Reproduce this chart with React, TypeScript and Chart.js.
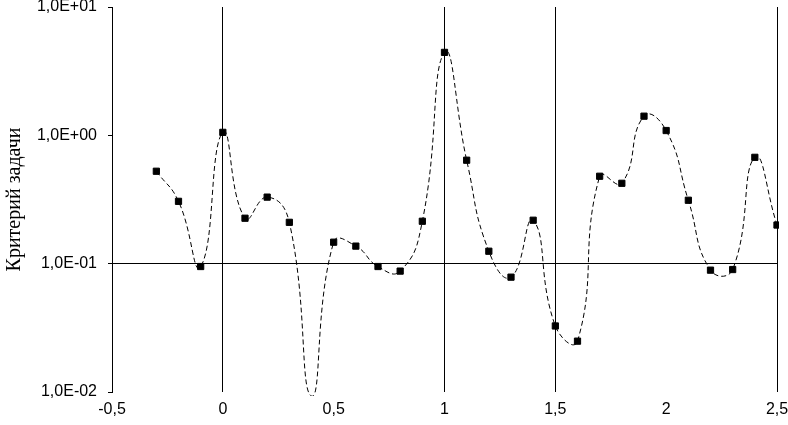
import React, { useEffect, useRef } from "react";
import { Chart, registerables } from "chart.js";

Chart.register(...registerables);

const xValues: number[] = [
  -0.3, -0.2, -0.1, 0, 0.1, 0.2, 0.3, 0.4, 0.5, 0.6, 0.7, 0.8, 0.9, 1.0,
  1.1, 1.2, 1.3, 1.4, 1.5, 1.6, 1.7, 1.8, 1.9, 2.0, 2.1, 2.2, 2.3, 2.4, 2.5,
];
const yValues: number[] = [
  0.525, 0.306, 0.095, 1.055, 0.226, 0.33, 0.21, 0.0093, 0.147, 0.137, 0.095,
  0.0875, 0.214, 4.43, 0.64, 0.125, 0.0785, 0.218, 0.0327, 0.0249, 0.48,
  0.423, 1.41, 1.09, 0.312, 0.089, 0.09, 0.674, 0.2,
];
const yTickValues: number[] = [0.01, 0.1, 1, 10];
const xGridHidden: number[] = [0.5, 2];
const yGridShown: number[] = [0.1];
const yTitle = "Критерий задачи";

function fmtExp(v: number): string {
  const e = Math.round(Math.log10(v));
  const s = e >= 0 ? "+" : "-";
  const a = Math.abs(e);
  return `1,0E${s}${a < 10 ? "0" : ""}${a}`;
}

function fmtX(v: number): string {
  return String(Math.round(v * 10) / 10).replace(".", ",");
}

export default function App() {
  const ref = useRef<HTMLCanvasElement | null>(null);
  useEffect(() => {
    if (!ref.current) return;
    const data = xValues.map((x, i) => ({ x, y: yValues[i] }));
    const chart = new Chart(ref.current, {
      type: "scatter",
      data: {
        datasets: [
          {
            data,
            showLine: true,
            tension: 0.5,
            borderColor: "#000",
            borderWidth: 1,
            borderDash: [5, 3],
            backgroundColor: "#000",
            pointStyle: "rect",
            pointRadius: (ctx: any) => {
              const v = ctx.raw && ctx.raw.y;
              return v !== undefined && v < 0.01 ? 0 : 4.4;
            },
            pointBorderWidth: 1,
            pointBorderColor: "#000",
            pointBackgroundColor: "#000",
            clip: { left: 0, top: 0, right: 2, bottom: 4 } as any,
          },
        ],
      },
      options: {
        responsive: false,
        animation: false,
        devicePixelRatio: 1,
        layout: { padding: { top: 7, right: 11, left: 0, bottom: 0 } },
        plugins: {
          legend: { display: false },
          tooltip: { enabled: false },
        },
        scales: {
          x: {
            type: "linear",
            min: -0.5,
            max: 2.5,
            ticks: {
              stepSize: 0.5,
              padding: 8,
              color: "#000",
              font: { family: "'Liberation Sans', Arial, sans-serif", size: 16 },
              callback: (v: any) => fmtX(Number(v)),
              maxRotation: 0,
              autoSkip: false,
            },
            border: { display: false },
            grid: {
              drawTicks: false,
              color: (ctx: any) => {
                const v = ctx.tick ? ctx.tick.value : NaN;
                return xGridHidden.some((h) => Math.abs(h - v) < 1e-9)
                  ? "rgba(0,0,0,0)"
                  : "#000";
              },
              lineWidth: 1,
            },
            afterFit: (scale: any) => {
              scale.height = 33;
              scale.paddingLeft = 0;
              scale.paddingRight = 0;
            },
          },
          y: {
            type: "logarithmic",
            min: 0.01,
            max: 10,
            afterBuildTicks: (scale: any) => {
              scale.ticks = yTickValues.map((v) => ({ value: v, major: true }));
            },
            ticks: {
              padding: 11,
              color: "#000",
              font: { family: "'Liberation Sans', Arial, sans-serif", size: 16 },
              callback: (v: any) => fmtExp(Number(v)),
              autoSkip: false,
            },
            border: { display: true, color: "#000", width: 1 },
            grid: {
              drawTicks: true,
              tickLength: 4,
              tickColor: "#000",
              color: (ctx: any) => {
                const v = ctx.tick ? ctx.tick.value : NaN;
                return yGridShown.some((h) => Math.abs(h - v) < 1e-9)
                  ? "#000"
                  : "rgba(0,0,0,0)";
              },
              lineWidth: 1,
            },
            title: {
              display: true,
              text: yTitle,
              color: "#000",
              font: { family: "'Liberation Serif', 'Times New Roman', serif", size: 20 },
              padding: { top: 3, bottom: 0 },
            },
            afterFit: (scale: any) => {
              scale.width = 112;
              scale.paddingTop = 0;
              scale.paddingBottom = 0;
            },
          },
        },
      } as any,
    });
    return () => chart.destroy();
  }, []);
  return (
    <canvas
      ref={ref}
      width={788}
      height={425}
      style={{ position: "fixed", left: 0, top: 0, width: 788, height: 425, background: "#fff" }}
    />
  );
}
